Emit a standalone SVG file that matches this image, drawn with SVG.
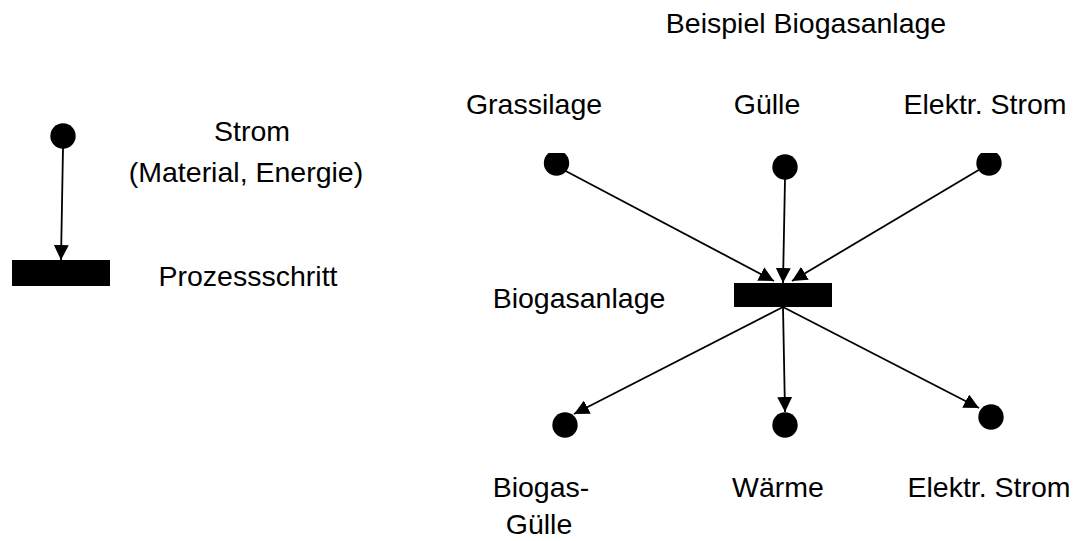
<svg xmlns="http://www.w3.org/2000/svg" width="1078" height="541" viewBox="0 0 1078 541">
  <style>
    text { font-family: "Liberation Sans", Arial, sans-serif; font-size: 28.5px; fill: #000; }
    .mid { text-anchor: middle; }
    .dot { fill: #000; }
    .step { fill: #000; }
    .flow { stroke: #000; stroke-width: 1.8; fill: none; marker-end: url(#head); }
  </style>
  <defs>
    <marker id="head" markerUnits="userSpaceOnUse" markerWidth="15" markerHeight="15" refX="15" refY="7.5" orient="auto">
      <path d="M0,0 L15,7.5 L0,15 Z" fill="#000"/>
    </marker>
    <clipPath id="topcut">
      <rect x="0" y="153" width="1078" height="400"/>
    </clipPath>
  </defs>

  <!-- legend -->
  <g id="legend-stream">
    <circle class="dot" cx="63" cy="136" r="12.7"/>
    <text class="mid" x="252" y="141">Strom</text>
    <text class="mid" x="246" y="182">(Material, Energie)</text>
  </g>
  <g id="legend-step">
    <rect class="step" x="12" y="260" width="98" height="26"/>
    <text class="mid" x="248" y="286">Prozessschritt</text>
  </g>

  <!-- example plant -->
  <text id="title" class="mid" x="806" y="33">Beispiel Biogasanlage</text>

  <g id="in-grassilage">
    <circle class="dot" cx="556.5" cy="163" r="12.7" clip-path="url(#topcut)"/>
    <text class="mid" x="534" y="114">Grassilage</text>
  </g>
  <g id="in-guelle">
    <circle class="dot" cx="785" cy="167" r="12.7"/>
    <text class="mid" x="767" y="114">Gülle</text>
  </g>
  <g id="in-strom">
    <circle class="dot" cx="989" cy="163" r="12.7" clip-path="url(#topcut)"/>
    <text class="mid" x="985" y="114">Elektr. Strom</text>
  </g>

  <g id="biogasanlage">
    <rect class="step" x="734" y="283" width="98" height="24"/>
    <text class="mid" x="579" y="308">Biogasanlage</text>
  </g>

  <g id="out-biogasguelle">
    <circle class="dot" cx="565" cy="425" r="12.7"/>
    <text class="mid" x="541" y="497">Biogas-</text>
    <text class="mid" x="539" y="534">Gülle</text>
  </g>
  <g id="out-waerme">
    <circle class="dot" cx="785" cy="425" r="12.7"/>
    <text class="mid" x="778" y="497">Wärme</text>
  </g>
  <g id="out-strom">
    <circle class="dot" cx="991" cy="417" r="12.7"/>
    <text class="mid" x="989" y="497">Elektr. Strom</text>
  </g>

  <g id="connectors">
    <line class="flow" x1="63" y1="148" x2="61" y2="260"/>
    <line class="flow" x1="560" y1="168" x2="774" y2="281"/>
    <line class="flow" x1="785" y1="179" x2="783" y2="283"/>
    <line class="flow" x1="982" y1="168" x2="792" y2="281"/>
    <line class="flow" x1="783" y1="307" x2="574" y2="414"/>
    <line class="flow" x1="783" y1="307" x2="785" y2="412"/>
    <line class="flow" x1="783" y1="307" x2="979" y2="408"/>
  </g>
</svg>
